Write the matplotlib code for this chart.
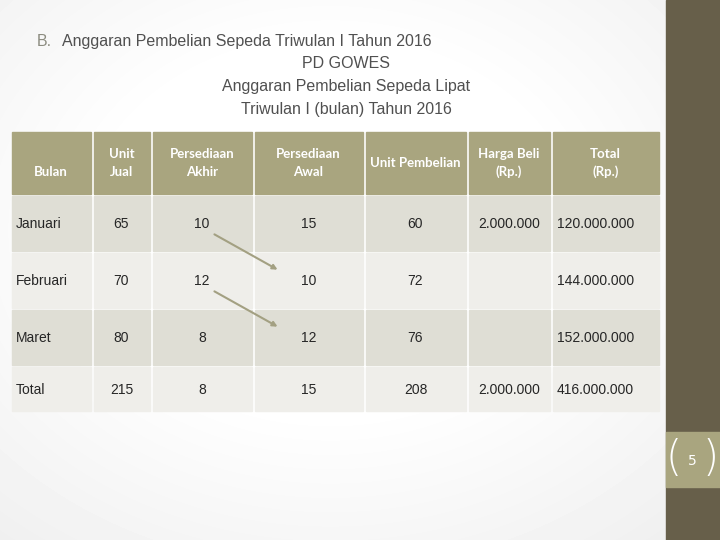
import numpy as np
import matplotlib.pyplot as plt
from matplotlib.patches import Rectangle, FancyArrowPatch

# table content
headers = ["Bulan", "Unit\nJual", "Persediaan\nAkhir", "Persediaan\nAwal",
           "Unit Pembelian", "Harga Beli\n(Rp.)", "Total\n(Rp.)"]
bulan = ["Januari", "Februari", "Maret", "Total"]
unit_jual = [65, 70, 80, 215]
pers_akhir = [10, 12, 8, 8]
pers_awal = [15, 10, 12, 15]
unit_pembelian = [60, 72, 76, 208]
harga_beli = ["2.000.000", "", "", "2.000.000"]
total_rp = ["120.000.000", "144.000.000", "152.000.000", "416.000.000"]

title_lines = ["PD GOWES", "Anggaran Pembelian Sepeda Lipat",
               "Triwulan I (bulan) Tahun 2016"]

# layout in pixel units
col_edges = [10, 92, 151, 253, 364, 467, 551, 660]
row_edges = [(132, 194), (196, 252), (253, 309), (310, 366), (367, 412)]

fig = plt.figure(figsize=(7.2, 5.4), dpi=100)
ax = fig.add_axes([0, 0, 1, 1])
ax.set_xlim(0, 720)
ax.set_ylim(540, 0)
ax.axis("off")

# soft grey vignette background
yy, xx = np.mgrid[0:540, 0:720]
r = np.sqrt(((xx - 330) / 420.0) ** 2 + ((yy - 230) / 330.0) ** 2)
bg = 1.0 - 0.09 * np.clip(r - 0.55, 0, 1)
ax.imshow(bg, cmap="gray", vmin=0, vmax=1, extent=[0, 720, 540, 0], zorder=0)

# right side bar
ax.add_patch(Rectangle((666, 0), 54, 540, color="#675f4a", zorder=1))
ax.add_patch(Rectangle((666, 432), 54, 55, color="#a9a57f", zorder=2))
ax.text(692, 461, "5", color="white", fontsize=10, ha="center", va="center",
        family="Liberation Sans Narrow", zorder=3)
ax.text(674, 459, "(", color="white", fontsize=30, ha="center", va="center",
        fontweight="light", zorder=3)
ax.text(711, 459, ")", color="white", fontsize=30, ha="center", va="center",
        fontweight="light", zorder=3)

# titles
ax.text(37, 46, "B.", color="#8c8c80", fontsize=11.5, va="baseline",
        family="Liberation Sans")
ax.text(62, 46, "Anggaran Pembelian Sepeda Triwulan I Tahun 2016", color="#505050",
        fontsize=11.5, va="baseline", family="Liberation Sans")
for i, line in enumerate(title_lines):
    ax.text(346, 68 + i * 23, line, color="#505050", fontsize=11.5, ha="center",
            va="baseline", family="Liberation Sans")

# header row
y0, y1 = row_edges[0]
for j, h in enumerate(headers):
    x0, x1 = col_edges[j], col_edges[j + 1]
    ax.add_patch(Rectangle((x0 + 1.5, y0), x1 - x0 - 3, y1 - y0,
                           color="#a9a57f", zorder=2))
    ty = 172 if j == 0 else (y0 + y1) / 2
    ax.text((x0 + x1) / 2, ty, h, color="white", fontsize=9.5, fontweight="bold",
            ha="center", va="center", linespacing=1.5,
            family=["Liberation Sans Narrow", "Lato"], zorder=3)

# body rows
fills = ["#dfded5", "#efeeea", "#dfded5", "#efeeea"]
for i in range(len(bulan)):
    y0, y1 = row_edges[i + 1]
    cells = [bulan[i], unit_jual[i], pers_akhir[i], pers_awal[i],
             unit_pembelian[i], harga_beli[i], total_rp[i]]
    for j, val in enumerate(cells):
        x0, x1 = col_edges[j], col_edges[j + 1]
        ax.add_patch(Rectangle((x0 + 1.5, y0), x1 - x0 - 3, y1 - y0 - 1.5,
                               color=fills[i], zorder=2))
        if j == 0 or j == 6:
            tx, ha = x0 + 6, "left"
        else:
            tx, ha = (x0 + x1) / 2, "center"
        ax.text(tx, (y0 + y1) / 2, str(val), color="#262626", fontsize=10,
                ha=ha, va="center", family="Liberation Sans", zorder=3)

# arrows from Persediaan Akhir to next month's Persediaan Awal
for i in range(2):
    ya = (row_edges[i + 1][0] + row_edges[i + 1][1]) / 2
    yb = (row_edges[i + 2][0] + row_edges[i + 2][1]) / 2
    arr = FancyArrowPatch((212, ya + 9), (280, yb - 10), arrowstyle="-|>",
                          mutation_scale=7, color="#a3a082", lw=1.5, zorder=4)
    ax.add_patch(arr)

fig.savefig("out.png", dpi=100)
